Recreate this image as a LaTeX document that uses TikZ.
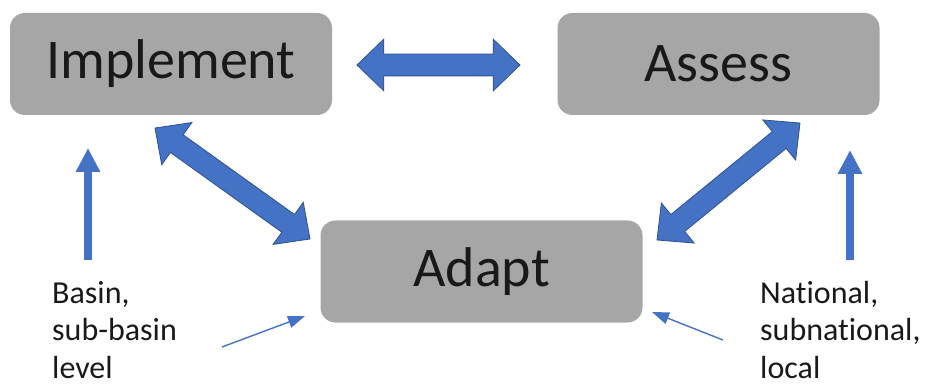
\documentclass[tikz,border=0pt]{standalone}
\usepackage{fontspec}
\setmainfont[Ligatures=NoCommon]{Carlito}
\usepackage{tikz}
\usetikzlibrary{arrows.meta,shapes.arrows,calc}
\usetikzlibrary{positioning}
\definecolor{boxgray}{HTML}{A6A6A6}
\definecolor{arrblue}{HTML}{4472C4}
\definecolor{arrline}{HTML}{2F528F}
\tikzset{
    stage/.style={
           rectangle,
           rounded corners=15pt,
           fill=boxgray,
           minimum width=322pt,
           minimum height=102pt,
           inner sep=0,
           text=black!90,
           font=\fontsize{56}{60}\selectfont,
           },
    blockarr/.style={
           double arrow,
           fill=arrblue,
           draw=arrline,
           line width=0.8pt,
           inner xsep=0pt,
           inner ysep=10.5pt,
           minimum width=0pt,
           double arrow head extend=15pt,
           double arrow tip angle=88,
           },
    pil/.style={
           arrblue,
           line width=8pt,
           -{Triangle[width=23pt,length=24pt]},
           },
    thin/.style={
           arrblue,
           line width=1.4pt,
           -{Triangle[width=12pt,length=17pt]},
           },
    lvl/.style={
           anchor=north west,
           align=left,
           inner sep=0,
           text=black!90,
           font=\fontsize{32}{37.5}\selectfont,
           }
}
\newcommand{\dblarrow}[2]{%
  \path let \p1=($(#2)-(#1)$), \n1={atan2(\y1,\x1)}, \n2={veclen(\x1,\y1)} in
    node[blockarr, rotate=\n1, minimum height=\n2] at ($(#1)!0.5!(#2)$) {};}

\begin{document}
\begin{tikzpicture}[x=1pt,y=-1pt]
\useasboundingbox (0,0) rectangle (928,387);
\node[stage] (impl) at (171,64) {Implement};
\node[stage] (assess) at (718.5,64) {Assess};
\node[stage] (adapt) at (481.5,271.5) {Adapt};
\node[lvl] (basin) at (52,281) {Basin,\\sub-basin\\level};
\node[lvl] (natl) at (760,281) {National,\\subnational,\\local};
% ends of the block arrows
\coordinate (h1) at (357,65);
\coordinate (h2) at (520,65);
\coordinate (l1) at (155,128);
\coordinate (l2) at (310,239);
\coordinate (r1) at (657,240);
\coordinate (r2) at (800,123);
\dblarrow{h1}{h2}
\dblarrow{l1}{l2}
\dblarrow{r1}{r2}
% level arrows
\coordinate (v1) at (88,260);
\coordinate (v2) at (88,148);
\coordinate (w1) at (850,260);
\coordinate (w2) at (850,150);
\draw[pil] (v1) -- (v2);
\draw[pil] (w1) -- (w2);
\coordinate (t1) at (222,347);
\coordinate (t2) at (723,340);
\draw[thin] (t1) -- (305,316);
\draw[thin] (t2) -- (652,312);
\end{tikzpicture}
\end{document}
